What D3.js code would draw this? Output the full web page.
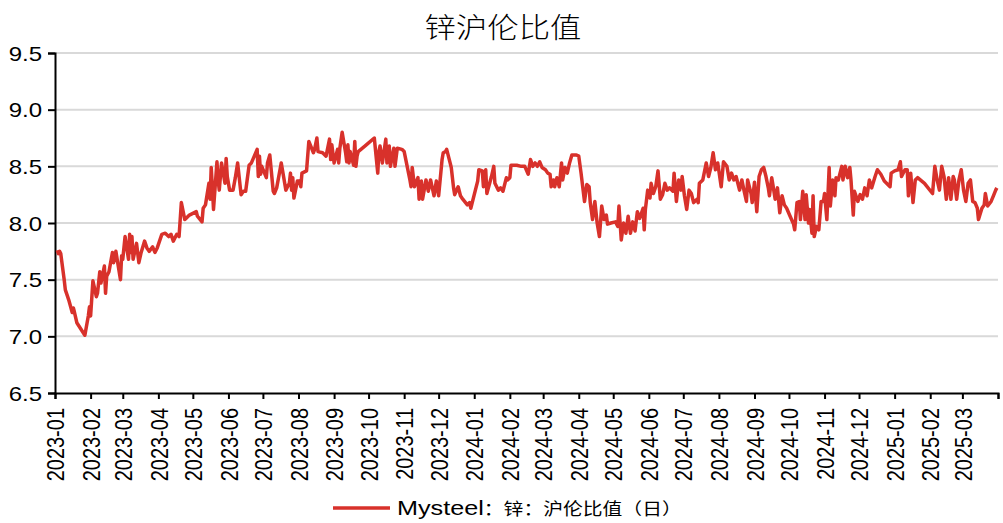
<!DOCTYPE html>
<html>
<head>
<meta charset="utf-8">
<style>
body { margin: 0; background: #fff; }
svg text { font-family: "Liberation Sans", Arial, sans-serif; }
.cjk { font-family: "Noto Sans CJK SC", sans-serif; }
</style>
</head>
<body>
<svg width="1003" height="523"></svg>
<script src="https://d3js.org/d3.v7.min.js"></script>
<script>

// 锌沪伦比值, daily
var days2023 = ["01-03","01-04","01-05","01-06","01-09","01-10","01-12","01-13","01-16","01-17","01-18","01-20","01-27","01-30","01-31",
  "02-01","02-03","02-06","02-07","02-09","02-10","02-13","02-14","02-15","02-17","02-20","02-21","02-23","02-27","02-28",
  "03-01","03-03","03-06","03-07","03-08","03-09","03-10","03-13","03-15","03-17","03-20","03-22","03-24","03-27","03-29","03-31",
  "04-04","04-07","04-10","04-12","04-14","04-17","04-19","04-21","04-24","04-25","04-28",
  "05-04","05-05","05-09","05-10","05-12","05-15","05-16","05-17","05-18","05-19","05-22","05-23","05-24","05-26","05-29","05-30","05-31",
  "06-02","06-05","06-07","06-09","06-12","06-14","06-16","06-19","06-21","06-26","06-27","06-28","06-29","06-30",
  "07-04","07-05","07-07","07-10","07-11","07-13","07-17","07-18","07-21","07-24","07-25","07-26","07-27","07-28","07-31",
  "08-02","08-03","08-04","08-08","08-10","08-14","08-15","08-17","08-18","08-22","08-25","08-28","08-29","08-30",
  "09-01","09-04","09-05","09-06","09-08","09-11","09-12","09-13","09-14","09-15","09-18","09-19","09-20","09-21","09-22","09-28",
  "10-06","10-09","10-10","10-11","10-13","10-16","10-17","10-19","10-20","10-23","10-24","10-26","10-30",
  "11-01","11-06","11-07","11-08","11-10","11-13","11-14","11-16","11-17","11-20","11-22","11-24","11-27","11-29",
  "12-01","12-04","12-05","12-07","12-08","12-11","12-12","12-14","12-15","12-18","12-20","12-22","12-26","12-28","12-29"];
var vals2023 = [7.76,7.73,7.75,7.73,7.50,7.41,7.35,7.32,7.21,7.25,7.21,7.12,7.01,7.18,7.26,
  7.18,7.49,7.35,7.38,7.57,7.47,7.62,7.38,7.53,7.57,7.74,7.65,7.75,7.50,7.71,
  7.68,7.88,7.68,7.90,7.74,7.88,7.68,7.82,7.65,7.74,7.84,7.78,7.75,7.79,7.74,7.78,
  7.90,7.91,7.88,7.90,7.84,7.90,7.88,8.18,8.03,8.04,8.07,
  8.10,8.06,8.01,8.13,8.16,8.35,8.21,8.49,8.32,8.12,8.54,8.38,8.29,8.53,8.35,8.57,8.41,
  8.29,8.29,8.40,8.53,8.25,8.28,8.28,8.51,8.53,8.65,8.41,8.59,8.43,8.50,
  8.40,8.53,8.60,8.28,8.26,8.31,8.53,8.47,8.29,8.35,8.44,8.29,8.40,8.22,8.37,
  8.37,8.32,8.44,8.46,8.72,8.62,8.65,8.75,8.63,8.62,8.59,8.74,8.56,8.69,
  8.53,8.65,8.53,8.66,8.80,8.62,8.54,8.69,8.53,8.63,8.51,8.72,8.50,8.59,8.63,8.68,
  8.75,8.44,8.63,8.68,8.53,8.74,8.53,8.68,8.50,8.66,8.50,8.66,8.65,
  8.63,8.38,8.32,8.49,8.32,8.40,8.21,8.37,8.21,8.38,8.28,8.38,8.24,8.37,
  8.24,8.56,8.62,8.63,8.65,8.53,8.49,8.31,8.25,8.32,8.24,8.21,8.16,8.18,8.13];

var days2024 = ["01-02","01-04","01-05","01-08","01-09","01-11","01-12","01-16","01-18","01-19","01-22","01-24","01-26","01-29","01-30",
  "02-01","02-02","02-07","02-11","02-14","02-17","02-19","02-21","02-23","02-25","02-27","02-29",
  "03-03","03-05","03-07","03-08","03-10","03-11","03-13","03-15","03-17","03-18","03-20","03-22","03-24","03-26","03-30",
  "04-01","04-03","04-06","04-08","04-10","04-11","04-13","04-15","04-17","04-19","04-21","04-23","04-25","04-26","04-29",
  "05-03","05-05","05-06","05-08","05-10","05-12","05-14","05-16","05-18","05-20","05-22","05-24","05-27","05-28","05-29","05-31",
  "06-02","06-03","06-05","06-07","06-09","06-11","06-13","06-15","06-17","06-19","06-22","06-23","06-25","06-27","06-29","06-30",
  "07-02","07-04","07-06","07-08","07-10","07-13","07-14","07-15","07-18","07-21","07-23","07-25","07-27","07-29","07-31",
  "08-03","08-05","08-08","08-10","08-12","08-14","08-16","08-19","08-21","08-23","08-25","08-26","08-29","08-30",
  "09-01","09-03","09-05","09-07","09-09","09-11","09-13","09-14","09-16","09-17","09-19","09-21","09-23","09-25","09-27","09-29",
  "10-02","10-05","10-06","10-08","10-10","10-11","10-13","10-15","10-16","10-18","10-19","10-21","10-22","10-23","10-25","10-27","10-29","10-31",
  "11-01","11-03","11-05","11-06","11-08","11-10","11-11","11-13","11-16","11-17","11-19","11-21","11-23","11-24","11-26","11-27","11-30",
  "12-02","12-04","12-06","12-08","12-10","12-12","12-15","12-17","12-20","12-23","12-28","12-29"];
var vals2024 = [8.29,8.37,8.47,8.46,8.32,8.47,8.26,8.41,8.50,8.35,8.29,8.31,8.28,8.40,8.38,
  8.40,8.51,8.51,8.50,8.50,8.43,8.56,8.50,8.53,8.50,8.54,8.49,
  8.47,8.44,8.43,8.32,8.38,8.32,8.40,8.32,8.53,8.38,8.49,8.44,8.53,8.60,8.60,
  8.59,8.44,8.19,8.34,8.32,8.18,8.03,8.19,8.00,7.88,8.15,8.03,8.07,7.99,8.00,
  8.01,7.97,8.15,7.85,8.00,7.91,8.06,7.91,8.01,7.93,8.10,8.04,8.13,7.94,8.12,8.29,
  8.22,8.35,8.26,8.32,8.46,8.21,8.25,8.35,8.29,8.31,8.28,8.44,8.19,8.38,8.29,8.41,
  8.24,8.12,8.29,8.26,8.18,8.21,8.18,8.35,8.38,8.53,8.41,8.49,8.62,8.47,8.53,
  8.32,8.54,8.50,8.38,8.44,8.38,8.41,8.29,8.38,8.28,8.19,8.38,8.26,8.18,
  8.36,8.10,8.41,8.47,8.49,8.41,8.31,8.24,8.40,8.34,8.21,8.31,8.09,8.24,8.16,8.13,
  8.06,7.99,7.94,8.18,8.19,8.03,8.28,8.03,8.25,8.00,8.12,7.91,8.24,7.88,7.97,7.94,8.19,8.19,
  8.26,8.03,8.49,8.15,8.38,8.24,8.40,8.38,8.50,8.38,8.50,8.40,8.49,8.38,8.07,8.28,8.19,
  8.25,8.21,8.31,8.24,8.38,8.31,8.41,8.47,8.43,8.37,8.32,8.44];

var days2025 = ["01-01","01-04","01-06","01-07","01-10","01-12","01-13","01-15","01-17","01-19","01-21","01-27",
  "02-03","02-05","02-07","02-09","02-11","02-13","02-15","02-17","02-19","02-21","02-22","02-24","02-26","02-28",
  "03-02","03-04","03-06","03-08","03-10","03-12","03-14","03-15","03-18","03-20","03-21","03-23","03-26","03-28","03-30","03-31"];
var vals2025 = [8.46,8.47,8.54,8.41,8.47,8.47,8.24,8.44,8.18,8.38,8.40,8.35,
  8.26,8.50,8.38,8.29,8.50,8.41,8.21,8.40,8.21,8.41,8.38,8.21,8.38,8.47,
  8.29,8.19,8.35,8.38,8.19,8.18,8.13,8.03,8.13,8.16,8.26,8.15,8.19,8.24,8.29,8.31];

var yTicks = [6.5, 7.0, 7.5, 8.0, 8.5, 9.0, 9.5];
var title = "锌沪伦比值";
var seriesName = "Mysteel：锌：沪伦比值（日）";

var parse = d3.utcParse("%Y-%m-%d");
var data = [];
[[2023, days2023, vals2023], [2024, days2024, vals2024], [2025, days2025, vals2025]].forEach(function(y) {
  y[1].forEach(function(d, i) { data.push({ date: parse(y[0] + "-" + d), value: y[2][i] }); });
});

var svg = d3.select("svg"),
    margin = { top: 53, right: 5, bottom: 130, left: 55 },
    width = 1003 - margin.left - margin.right,
    height = 523 - margin.top - margin.bottom,
    g = svg.append("g").attr("transform", "translate(" + margin.left + "," + margin.top + ")"),
    stretch = 1.2; // text in the picture is a bit wide

var start = parse("2023-01-01"), end = parse("2025-04-01");

var x = d3.scaleUtc().domain([start, end]).range([0, width]);
var y = d3.scaleLinear().domain([6.5, 9.5]).range([height, 0]);

// grid
g.selectAll(".grid")
  .data(yTicks.slice(1))
  .enter().append("line")
    .attr("x1", 0).attr("x2", width)
    .attr("y1", function(d) { return y(d); })
    .attr("y2", function(d) { return y(d); })
    .attr("stroke", "#d9d9d9")
    .attr("stroke-width", 2);

var fmt = d3.utcFormat("%Y-%m");
var xAxis = g.append("g")
    .attr("transform", "translate(0," + height + ")")
    .call(d3.axisBottom(x)
      .tickValues(d3.utcMonth.range(start, d3.utcDay.offset(end, 1)))
      .tickSize(6)
      .tickFormat(function(d) { return +d >= +end ? "" : fmt(d); }));
xAxis.select(".domain").attr("stroke", "#000").attr("stroke-width", 2);
xAxis.selectAll(".tick line").attr("stroke", "#000").attr("stroke-width", 2);
xAxis.selectAll(".tick text")
    .attr("font-size", 20)
    .attr("fill", "#000")
    .attr("text-anchor", "end")
    .attr("transform", "rotate(-90) scale(1," + stretch + ")")
    .attr("x", -15)
    .attr("y", 0)
    .attr("dy", "0.36em");

var yAxis = g.append("g")
    .call(d3.axisLeft(y).tickValues(yTicks).tickSize(7).tickFormat(d3.format(".1f")));
yAxis.select(".domain").attr("stroke", "#000").attr("stroke-width", 2);
yAxis.selectAll(".tick line").attr("stroke", "#000").attr("stroke-width", 2);
yAxis.selectAll(".tick text")
    .attr("font-size", 20)
    .attr("fill", "#000")
    .attr("transform", "scale(" + stretch + ",1)")
    .attr("x", -13 / stretch)
    .attr("dy", "0.36em");

var line = d3.line()
    .x(function(d) { return x(d.date); })
    .y(function(d) { return y(d.value); });

g.append("path")
    .datum(data)
    .attr("fill", "none")
    .attr("stroke", "#d8312b")
    .attr("stroke-width", 3.5)
    .attr("stroke-linejoin", "round")
    .attr("d", line);

// title
svg.append("text")
    .attr("class", "cjk")
    .attr("transform", "translate(503,38) scale(1.12,1)")
    .attr("text-anchor", "middle")
    .attr("font-size", 28)
    .attr("font-weight", 300)
    .text(title);

// legend
var lg = svg.append("g").attr("transform", "translate(333,508)");
lg.append("line").attr("x1", 0).attr("x2", 57).attr("stroke", "#d8312b").attr("stroke-width", 3.5);
var lt = lg.append("text")
    .attr("transform", "translate(64,7) scale(" + stretch + ",1)")
    .attr("font-size", 21)
    .text("Mysteel");
lt.append("tspan")
    .attr("class", "cjk")
    .attr("font-size", 16.5)
    .text(seriesName.slice(7));

</script>
</body>
</html>
